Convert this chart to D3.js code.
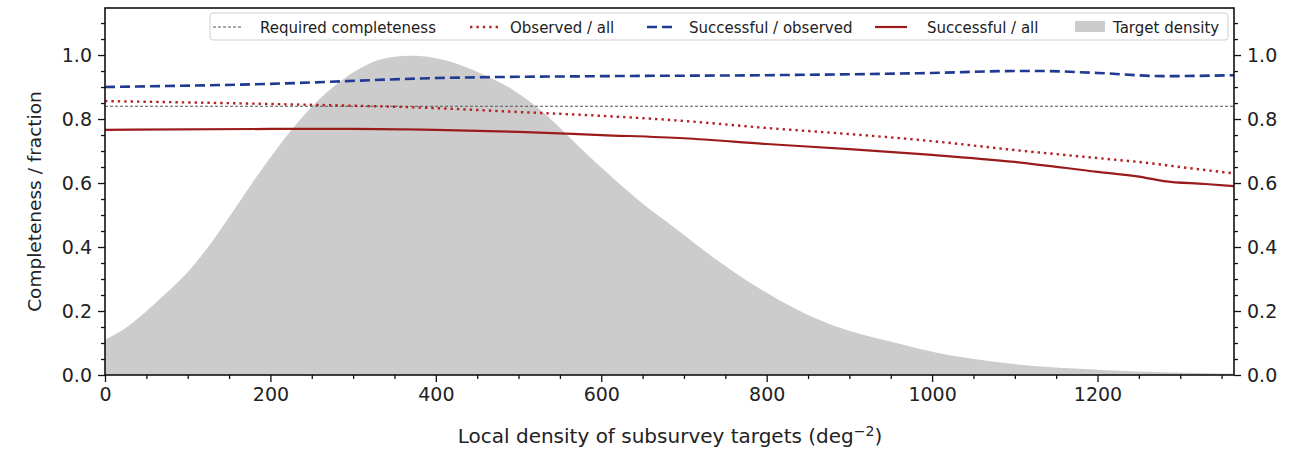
<!DOCTYPE html>
<html><head><meta charset="utf-8">
<script src="https://cdn.jsdelivr.net/npm/d3@7"></script>
<style>body{margin:0;background:#fff}svg{display:block}text{font-family:"DejaVu Sans",sans-serif;fill:#222}</style>
</head><body><svg id="c" width="1289" height="450"></svg>
<script>
// Data
const densityX = [0,27,54,91,115,139,163,187,211,236,260,284,308,332,369,396,429,455,493,534,574,614,655,695,735,776,816,856,897,937,961,1009,1057,1106,1154,1202,1263,1323,1365];
const densityY = [0.11,0.147,0.209,0.294,0.366,0.45,0.544,0.634,0.72,0.80,0.866,0.919,0.959,0.991,1.0,0.994,0.972,0.942,0.897,0.816,0.709,0.616,0.522,0.45,0.366,0.294,0.231,0.178,0.138,0.112,0.097,0.066,0.047,0.031,0.022,0.016,0.01,0.006,0.004];
const requiredCompleteness = 0.84;
const succObsX = [0,200,400,600,800,1000,1100,1130,1200,1280,1365];
const succObsY = [0.90,0.91,0.928,0.934,0.937,0.944,0.95,0.95,0.944,0.934,0.937];
const obsAllX = [0,200,400,500,600,700,800,900,1000,1100,1200,1270,1300,1365];
const obsAllY = [0.856,0.847,0.834,0.822,0.81,0.794,0.772,0.753,0.731,0.703,0.678,0.66,0.65,0.63];
const succAllX = [0,200,300,400,500,600,700,800,900,1000,1100,1200,1250,1280,1330,1365];
const succAllY = [0.766,0.769,0.769,0.766,0.76,0.75,0.74,0.722,0.706,0.688,0.666,0.635,0.62,0.606,0.597,0.59];
const xTicks = [0,200,400,600,800,1000,1200];
const yTicks = [0,0.2,0.4,0.6,0.8,1.0];
const legendLabels = ["Required completeness","Observed / all","Successful / observed","Successful / all","Target density"];

const svg = d3.select("#c");
const L=105,R=1234,T=8,B=375;
const x = d3.scaleLinear().domain([0,1365]).range([L,R]);
const y = d3.scaleLinear().domain([0,1.147]).range([B,T]);

const zip=(a,b)=>a.map((v,i)=>[v,b[i]]);

// density area
svg.append("path").datum(zip(densityX,densityY))
  .attr("d", d3.area().x(d=>x(d[0])).y0(y(0)).y1(d=>y(d[1])).curve(d3.curveBasis))
  .attr("fill","#cccccc");

// required
svg.append("line").attr("x1",L).attr("x2",R).attr("y1",y(requiredCompleteness)).attr("y2",y(requiredCompleteness))
  .attr("stroke","#555").attr("stroke-width",1.2).attr("stroke-dasharray","3,2");

const line = d3.line().x(d=>x(d[0])).y(d=>y(d[1])).curve(d3.curveMonotoneX);
svg.append("path").datum(zip(obsAllX,obsAllY)).attr("d",line).attr("fill","none")
  .attr("stroke","#b22222").attr("stroke-width",2.4).attr("stroke-dasharray","2.4,4");
svg.append("path").datum(zip(succObsX,succObsY)).attr("d",line).attr("fill","none")
  .attr("stroke","#1f3a93").attr("stroke-width",2.6).attr("stroke-dasharray","10,5");
svg.append("path").datum(zip(succAllX,succAllY)).attr("d",line).attr("fill","none")
  .attr("stroke","#9b1b1b").attr("stroke-width",2.2);

// axes
const fs = "19px";
const minorY = d3.range(0.05,1.146,0.05).filter(v=>Math.abs(v*5-Math.round(v*5))>1e-6);
svg.append("g").attr("transform",`translate(0,${B})`)
  .call(d3.axisBottom(x).tickValues(xTicks).tickSize(7).tickPadding(6).tickFormat(d3.format("d")));
svg.append("g").attr("transform",`translate(0,${B})`)
  .call(d3.axisBottom(x).tickValues(d3.range(0,1366,50).filter(v=>v%200)).tickSize(4).tickFormat(""));
svg.append("g").attr("transform",`translate(${L},0)`)
  .call(d3.axisLeft(y).tickValues(yTicks).tickSize(7).tickPadding(6).tickFormat(d3.format(".1f")));
svg.append("g").attr("transform",`translate(${L},0)`)
  .call(d3.axisLeft(y).tickValues(minorY).tickSize(4).tickFormat(""));
svg.append("g").attr("transform",`translate(${R},0)`)
  .call(d3.axisRight(y).tickValues(yTicks).tickSize(7).tickPadding(6).tickFormat(d3.format(".1f")));
svg.append("g").attr("transform",`translate(${R},0)`)
  .call(d3.axisRight(y).tickValues(minorY).tickSize(4).tickFormat(""));
svg.selectAll(".domain").remove();
svg.selectAll(".tick line").attr("stroke","#111").attr("stroke-width",1.3);
svg.selectAll(".tick text").style("font-size",fs).style("font-family","DejaVu Sans").attr("fill","#222");
// frame
svg.append("rect").attr("x",L).attr("y",T).attr("width",R-L).attr("height",B-T)
  .attr("fill","none").attr("stroke","#111").attr("stroke-width",1.6);

// labels
svg.append("text").attr("transform",`translate(41,${(T+B)/2 + 10}) rotate(-90)`).attr("text-anchor","middle")
  .style("font-size","18.5px").text("Completeness / fraction");
const xl = svg.append("text").attr("x",670).attr("y",443).attr("text-anchor","middle").style("font-size","20px");
xl.append("tspan").text("Local density of subsurvey targets (deg");
xl.append("tspan").attr("dy",-7).style("font-size","14px").text("\u22122");
xl.append("tspan").attr("dy",7).text(")");

// legend
const lg = svg.append("g");
lg.append("rect").attr("x",210).attr("y",13).attr("width",1018).attr("height",27).attr("rx",3)
  .attr("fill","#fff").attr("fill-opacity",0.85).attr("stroke","#d0d0d0");
const entries = [
 {x:213, tx:260, type:"line", stroke:"#555", w:1.2, dash:"3,2"},
 {x:470, tx:510, type:"line", stroke:"#b22222", w:2.4, dash:"2.4,4"},
 {x:647, tx:689, type:"line", stroke:"#1f3a93", w:2.6, dash:"10,5"},
 {x:875, tx:927, type:"line", stroke:"#9b1b1b", w:2.2, dash:null},
 {x:1075, tx:1113, type:"patch"}
];
entries.forEach((e,i)=>{
  if(e.type==="line"){
    lg.append("line").attr("x1",e.x).attr("x2",e.x+(i==3?32:30)).attr("y1",27).attr("y2",27)
      .attr("stroke",e.stroke).attr("stroke-width",e.w).attr("stroke-dasharray",e.dash);
  } else {
    lg.append("rect").attr("x",e.x).attr("y",21).attr("width",30).attr("height",11).attr("fill","#cccccc");
  }
  lg.append("text").attr("x",e.tx).attr("y",32.5).style("font-size","15px").text(legendLabels[i]);
});
</script></body></html>
